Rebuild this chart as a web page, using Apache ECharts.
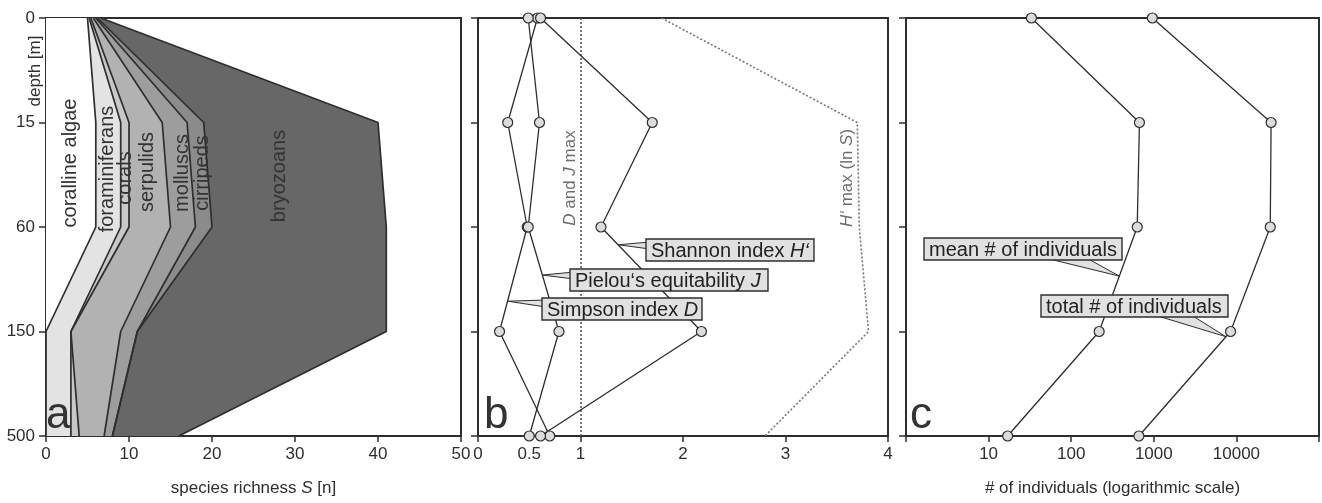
<!DOCTYPE html>
<html>
<head>
<meta charset="utf-8">
<script src="https://cdn.jsdelivr.net/npm/echarts@6/dist/echarts.min.js"></script>
<style>
    html, body { margin: 0; padding: 0; background: #fff; }
    #chart { width: 1322px; height: 503px; }
</style>
</head>
<body>
<div id="chart"></div>
<script>
// depth classes [m], shared by all three panels
var depths = ['0', '15', '60', '150', '500'];

// panel a - species richness S per group (stacked)
var groupNames = ['coralline algae', 'foraminiferans', 'corals', 'serpulids', 'molluscs', 'cirripeds', 'bryozoans'];
var corallineAlgae = [5, 6, 6, 0, 0];
var foraminiferans = [0.2, 3, 3, 3, 3];
var corals = [0.2, 1, 1, 0, 1];
var serpulids = [0.3, 4, 5, 6, 3];
var molluscs = [0.3, 3, 3, 2, 1];
var cirripeds = [0.2, 2, 2, 0, 0];
var bryozoans = [0.4, 21, 21, 30, 8];

// panel b - diversity indices
var simpsonD = [0.58, 0.29, 0.48, 0.21, 0.70];
var pielouJ = [0.49, 0.60, 0.49, 0.79, 0.50];
var shannonH = [0.61, 1.70, 1.20, 2.18, 0.61];
var shannonHmax = [1.79, 3.70, 3.72, 3.81, 2.80];
var djMax = 1;
var diversityLabels = [0, 0.5, 1, 2, 3, 4];
var diversityTicks = [0, 1, 2, 3, 4];

// panel c - individuals
var meanIndividuals = [33, 670, 630, 218, 17];
var totalIndividuals = [960, 26300, 25700, 8500, 660];
var logLabels = [10, 100, 1000, 10000];

(function () {
    var FONT = '"Liberation Sans", Arial, sans-serif';
    var INK = '#2e2e2e';
    var chart = echarts.init(document.getElementById('chart'), null, {renderer: 'canvas'});

    var groupData = [corallineAlgae, foraminiferans, corals, serpulids, molluscs, cirripeds, bryozoans];
    var groupColors = ['#ffffff', '#e3e3e3', '#c8c8c8', '#b2b2b2', '#9d9d9d', '#8b8b8b', '#676767'];

    function valueX(gridIndex, opts) {
        var ax = {
            gridIndex: gridIndex,
            axisLine: {show: true, onZero: false, lineStyle: {color: INK, width: 2}},
            axisTick: {show: true, inside: false, length: 6, lineStyle: {color: INK, width: 1.5}},
            axisLabel: {color: INK, fontSize: 17, fontFamily: FONT, margin: 10},
            splitLine: {show: false},
            nameLocation: 'middle',
            nameGap: 44,
            nameTextStyle: {
                color: INK, fontSize: 17, fontFamily: FONT,
                rich: {i: {fontStyle: 'italic', color: INK, fontSize: 17, fontFamily: FONT}}
            }
        };
        for (var k in opts) {
            ax[k] = opts[k];
        }
        return ax;
    }

    function depthY(gridIndex, showLabels) {
        return {
            type: 'category',
            gridIndex: gridIndex,
            data: depths,
            inverse: true,
            boundaryGap: false,
            axisLine: {show: true, lineStyle: {color: INK, width: 2}},
            axisTick: {show: true, inside: false, length: 7, lineStyle: {color: INK, width: 1.5}},
            axisLabel: {show: showLabels, color: INK, fontSize: 17, fontFamily: FONT, margin: 11},
            splitLine: {show: false}
        };
    }

    var series = [];
    for (var i = 0; i < groupNames.length; i++) {
        series.push({
            name: groupNames[i],
            type: 'line',
            xAxisIndex: 0,
            yAxisIndex: 0,
            stack: 'richness',
            symbol: 'none',
            data: groupData[i],
            lineStyle: {color: INK, width: 1.7},
            areaStyle: {color: groupColors[i], opacity: 1},
            silent: true
        });
    }

    var markerStyle = {color: '#dcdcdc', borderColor: INK, borderWidth: 1.2};
    function pointLine(name, data, xi) {
        return {
            name: name,
            type: 'line',
            xAxisIndex: xi,
            yAxisIndex: xi,
            data: data,
            symbol: 'circle',
            symbolSize: 10,
            showAllSymbol: true,
            itemStyle: markerStyle,
            lineStyle: {color: INK, width: 1.3},
            z: 5
        };
    }

    series.push(pointLine('Simpson index D', simpsonD, 1));
    series.push(pointLine('Pielou J', pielouJ, 1));
    series.push(pointLine('Shannon index H', shannonH, 1));
    series.push({
        name: 'H max (ln S)',
        type: 'line',
        xAxisIndex: 1,
        yAxisIndex: 1,
        data: shannonHmax,
        symbol: 'none',
        lineStyle: {color: '#777', width: 1.6, type: [2, 2]},
        markLine: {
            silent: true,
            symbol: 'none',
            label: {show: false},
            lineStyle: {color: '#555', width: 1.6, type: [2, 2]},
            data: [{xAxis: djMax}]
        },
        z: 3
    });
    series.push(pointLine('mean # of individuals', meanIndividuals, 2));
    series.push(pointLine('total # of individuals', totalIndividuals, 2));

    var option = {
        animation: false,
        backgroundColor: '#fff',
        textStyle: {fontFamily: FONT},
        grid: [
            {left: 46, top: 18, width: 415, height: 418, show: true, borderColor: INK, borderWidth: 2},
            {left: 478, top: 18, width: 410, height: 418, show: true, borderColor: INK, borderWidth: 2},
            {left: 906, top: 18, width: 415, height: 418, show: true, borderColor: INK, borderWidth: 2}
        ],
        xAxis: [
            valueX(0, {type: 'value', min: 0, max: 50, interval: 10, name: 'species richness {i|S} [n]'}),
            valueX(1, {
                type: 'value', min: 0, max: 4, interval: 1,
                axisLabel: {color: INK, fontSize: 17, fontFamily: FONT, margin: 10, customValues: diversityLabels},
                axisTick: {show: true, inside: false, length: 6, lineStyle: {color: INK, width: 1.5}, customValues: diversityTicks}
            }),
            valueX(2, {
                type: 'log', logBase: 10, min: 1, max: 100000,
                name: '# of individuals (logarithmic scale)',
                axisLabel: {
                    color: INK, fontSize: 17, fontFamily: FONT, margin: 10,
                    formatter: function (v) {
                        return logLabels.indexOf(Math.round(v)) >= 0 ? String(Math.round(v)) : '';
                    }
                }
            })
        ],
        yAxis: [depthY(0, true), depthY(1, false), depthY(2, false)],
        series: series
    };
    chart.setOption(option);

    // ---- annotations ----
    function along(gridIndex, a, b, t) {
        var p = chart.convertToPixel({gridIndex: gridIndex}, a);
        var q = chart.convertToPixel({gridIndex: gridIndex}, b);
        return [p[0] + (q[0] - p[0]) * t, p[1] + (q[1] - p[1]) * t];
    }

    var graphics = [];
    function vtext(x, y, text, size, color, rich) {
        graphics.push({
            type: 'text', x: x, y: y, rotation: Math.PI / 2, silent: true, z: 50,
            style: {
                text: text, fill: color, font: size + 'px ' + FONT,
                align: 'center', verticalAlign: 'middle', rich: rich || {}
            }
        });
    }
    var specLabelPos = [[70, 163], [107, 169], [125, 178], [147, 172], [182, 173], [202, 173], [279, 176]];
    for (var g = 0; g < groupNames.length; g++) {
        vtext(specLabelPos[g][0], specLabelPos[g][1], groupNames[g], 20, '#333');
    }
    vtext(35, 71, 'depth [m]', 17, INK);

    var grayRich = {i: {fontStyle: 'italic', fill: '#6e6e6e', fontSize: 17, fontFamily: FONT}};
    vtext(570, 178, '{i|D} and {i|J} max', 17, '#6e6e6e', grayRich);
    vtext(847, 178, '{i|H\u2018} max (ln {i|S})', 17, '#6e6e6e', grayRich);

    var letters = [['a', 46], ['b', 484], ['c', 910]];
    for (var l = 0; l < letters.length; l++) {
        graphics.push({
            type: 'text', x: letters[l][1], y: 416, silent: true, z: 50,
            style: {text: letters[l][0], fill: '#333', font: '44px ' + FONT, align: 'left', verticalAlign: 'middle'}
        });
    }

    var boxRich = {i: {fontStyle: 'italic', fill: '#222', fontSize: 20, fontFamily: FONT}};
    function callout(tip, bx, by, w, text, baseA, baseB) {
        graphics.push({
            type: 'polygon', silent: true, z: 60,
            shape: {points: [tip, baseA, baseB]},
            style: {fill: '#e1e1e1', stroke: INK, lineWidth: 1}
        });
        graphics.push({
            type: 'rect', silent: true, z: 61,
            shape: {x: bx, y: by, width: w, height: 22},
            style: {fill: '#e1e1e1', stroke: INK, lineWidth: 1.4}
        });
        graphics.push({
            type: 'text', x: bx + 5, y: by + 12, silent: true, z: 62,
            style: {text: text, fill: '#222', font: '20px ' + FONT, align: 'left', verticalAlign: 'middle', rich: boxRich}
        });
    }

    callout(along(1, [shannonH[2], 2], [shannonH[3], 3], 0.17), 646, 239, 168,
        'Shannon index {i|H\u2018}', [650, 242], [650, 249]);
    callout(along(1, [pielouJ[2], 2], [pielouJ[3], 3], 0.46), 570, 269, 198,
        'Pielou\u2018s equitability {i|J}', [574, 272], [574, 279]);
    callout(along(1, [simpsonD[2], 2], [simpsonD[3], 3], 0.71), 542, 298, 160,
        'Simpson index {i|D}', [546, 300], [546, 307]);
    callout(along(2, [meanIndividuals[2], 2], [meanIndividuals[3], 3], 0.47), 924, 238, 198,
        'mean # of individuals', [1037, 256], [1083, 256]);
    callout(along(2, [totalIndividuals[3], 3], [totalIndividuals[4], 4], 0.05), 1041, 295, 187,
        'total # of individuals', [1148, 313], [1188, 313]);

    chart.setOption({graphic: graphics});
})();
</script>
</body>
</html>
